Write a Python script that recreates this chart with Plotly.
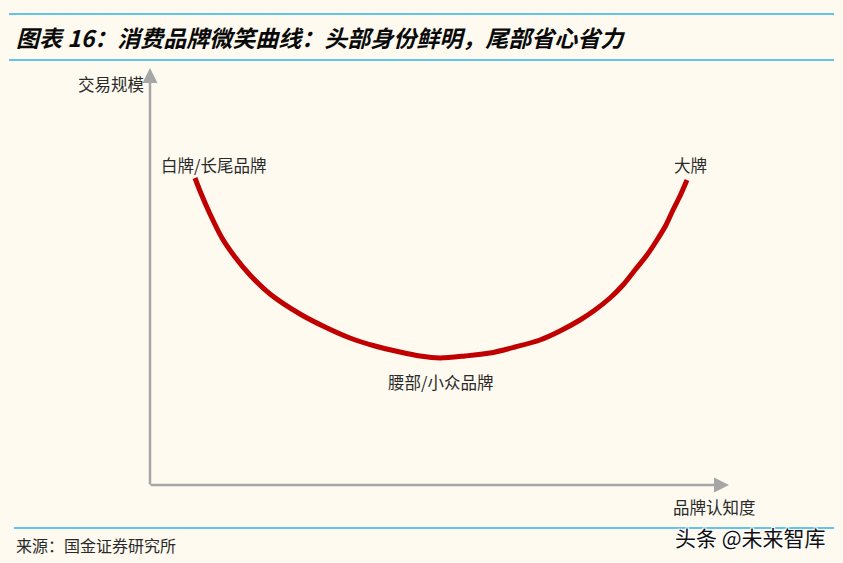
import plotly.graph_objects as go

# Schematic "smile curve" (arbitrary units, origin at axis corner)
awareness = [45, 50, 60, 72, 85, 100, 120, 150, 175, 200, 225, 250, 270, 290, 315,
             340, 365, 390, 410, 430, 445, 460, 473, 485, 497, 507, 516, 523, 530, 537]
volume = [307, 294, 271, 247, 228, 210, 191, 171, 158, 147, 139, 133, 129, 127, 129,
          132, 138, 145, 154, 165, 175, 187, 200, 215, 230, 245, 260, 275, 289, 305]

title = "图表 16：消费品牌微笑曲线：头部身份鲜明，尾部省心省力"
y_label = "交易规模"
x_label = "品牌认知度"
point_labels = ["白牌/长尾品牌", "腰部/小众品牌", "大牌"]
source = "来源：国金证券研究所"
watermark = "头条 @未来智库"

W, H = 843, 563
OX, OY = 150, 485  # axis origin in page pixels


def X(px):
    return px - OX


def Y(py):
    return OY - py


BG = "#FEFAF0"
AXIS = "#A6A6A6"
BLUE = "#62C3EE"
RED = "#C00000"
CJK = "Noto Sans CJK SC"
LBL = dict(family=CJK, size=16.5, color="#2a2a2a")

fig = go.Figure()
fig.add_trace(go.Scatter(
    x=awareness, y=volume, mode="lines",
    line=dict(color=RED, width=5, shape="spline", smoothing=0.8),
    hoverinfo="skip", showlegend=False,
))

shapes = []
for py, x0 in [(14, 9), (60, 9), (528, 14)]:
    shapes.append(dict(type="line", xref="x", yref="y", x0=X(x0), x1=X(834),
                       y0=Y(py), y1=Y(py), line=dict(color=BLUE, width=2)))

annotations = [
    # axes arrows
    dict(x=X(150), y=Y(68), ax=X(150), ay=Y(486), xref="x", yref="y", axref="x", ayref="y",
         text="", showarrow=True, arrowhead=2, arrowsize=1.2, arrowwidth=2.5, arrowcolor=AXIS),
    dict(x=X(729), y=Y(485), ax=X(149), ay=Y(485), xref="x", yref="y", axref="x", ayref="y",
         text="", showarrow=True, arrowhead=2, arrowsize=1.2, arrowwidth=2.5, arrowcolor=AXIS),
    dict(x=X(14), y=Y(37), text="<b><i>" + title + "</i></b>", showarrow=False,
         xanchor="left", yanchor="middle", font=dict(family=CJK, size=23, color="#0a0a0a")),
    dict(x=X(146), y=Y(84), text=y_label, showarrow=False, xanchor="right", yanchor="middle", font=LBL),
    dict(x=X(213), y=Y(165), text=point_labels[0], showarrow=False, xanchor="center", yanchor="middle", font=LBL),
    dict(x=X(440), y=Y(382), text=point_labels[1], showarrow=False, xanchor="center", yanchor="middle", font=LBL),
    dict(x=X(690), y=Y(165), text=point_labels[2], showarrow=False, xanchor="center", yanchor="middle", font=LBL),
    dict(x=X(714), y=Y(507), text=x_label, showarrow=False, xanchor="center", yanchor="middle", font=LBL),
    dict(x=X(14), y=Y(545), text=source, showarrow=False, xanchor="left", yanchor="middle",
         font=dict(family=CJK, size=16, color="#2a2a2a")),
    dict(x=X(828), y=Y(537), text=watermark, showarrow=False, xanchor="right", yanchor="middle",
         font=dict(family=CJK, size=21, color="#111111",
                   shadow="1px 1px 0 #fff, -1px -1px 0 #fff, 1px -1px 0 #fff, -1px 1px 0 #fff")),
]

fig.update_layout(
    width=W, height=H,
    margin=dict(l=0, r=0, t=0, b=0),
    paper_bgcolor=BG, plot_bgcolor=BG,
    xaxis=dict(range=[X(0), X(W)], visible=False, fixedrange=True),
    yaxis=dict(range=[Y(H), Y(0)], visible=False, fixedrange=True),
    shapes=shapes, annotations=annotations,
    showlegend=False,
)

fig.write_html("out.html", config={"displayModeBar": False})

# remove the default page margin so the figure fills the window exactly
with open("out.html", encoding="utf-8") as f:
    html = f.read()
html = html.replace("<head>", "<head><style>html,body{margin:0;padding:0;overflow:hidden;background:#FEFAF0}</style>", 1)
with open("out.html", "w", encoding="utf-8") as f:
    f.write(html)
